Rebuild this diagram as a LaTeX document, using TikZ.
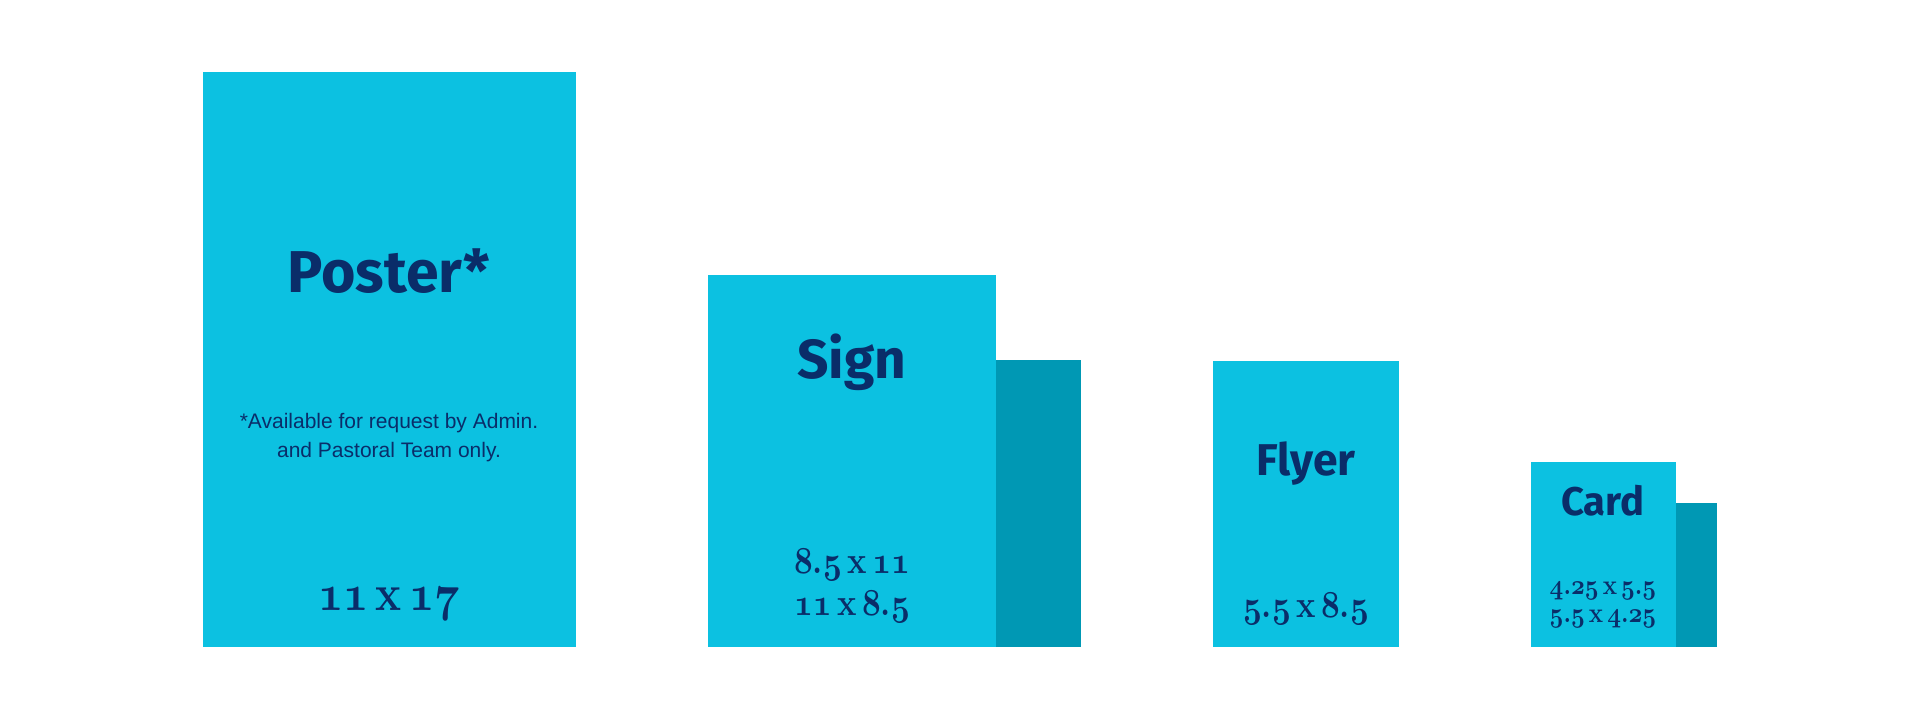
\documentclass[tikz,border=0pt]{standalone}
\usepackage{fix-cm}
\usepackage{fontspec}
\newfontfamily\headfont{Fira Sans}
\newfontfamily\notefont{Liberation Sans}
\definecolor{sky}{RGB}{12,193,225}
\definecolor{shade}{RGB}{0,152,180}
\definecolor{ink}{RGB}{10,45,105}
% old style figures from the bold math italic
\newcommand\osf[1]{{\usefont{OML}{cmm}{b}{it}#1}}
\newcommand\dec[2]{\osf{#1}.\osf{#2}}
\newcommand\by{\,x\,}
\begin{document}
\begin{tikzpicture}[x=1pt,y=-1pt,
  front/.style={fill=sky, inner sep=0, anchor=north west},
  back/.style={fill=shade, inner sep=0, anchor=north west},
  title/.style={text=ink, anchor=base, inner sep=0, font=\headfont\bfseries\fontsize{#1}{#1}\selectfont},
  size/.style={text=ink, anchor=base, inner sep=0, xscale=0.86, font=\bfseries\fontsize{#1}{#1}\selectfont},
  note/.style={text=ink, anchor=base, inner sep=0, align=center, font=\notefont\fontsize{21}{29}\selectfont}]
\useasboundingbox (0,0) rectangle (1920,720);

\node[front, minimum width=372.5pt, minimum height=575pt] (poster) at (203,72) {};
\node[back, minimum width=90pt, minimum height=287pt] (signback) at (991,360) {};
\node[front, minimum width=287.5pt, minimum height=372pt] (sign) at (708,275) {};
\node[front, minimum width=186pt, minimum height=286.5pt] (flyer) at (1213,360.5) {};
\node[back, minimum width=46pt, minimum height=144.5pt] (cardback) at (1671,502.5) {};
\node[front, minimum width=144.5pt, minimum height=185.3pt] (card) at (1531,461.7) {};

\node[title=59] (postertitle) at (389,292) {Poster*};
\node[note] (posternote) at (389,457) {*Available for request by Admin.\\and Pastoral Team only.};
\node[size=51] (postersize) at (389,610.7) {\osf{11}\by\osf{17}};

\node[title=55] (signtitle) at (852,378) {Sign};
\node[size=38] (signsize1) at (852,573) {\dec{8}{5}\by\osf{11}};
\node[size=38] (signsize2) at (852,615) {\osf{11}\by\dec{8}{5}};

\node[title=44.5] (flyertitle) at (1306,475) {Flyer};
\node[size=38] (flyersize) at (1306,617) {\dec{5}{5}\by\dec{8}{5}};

\node[title=40] (cardtitle) at (1603,515) {Card};
\node[size=28] (cardsize1) at (1603,594) {\dec{4}{25}\by\dec{5}{5}};
\node[size=28] (cardsize2) at (1603,622) {\dec{5}{5}\by\dec{4}{25}};
\end{tikzpicture}
\end{document}
